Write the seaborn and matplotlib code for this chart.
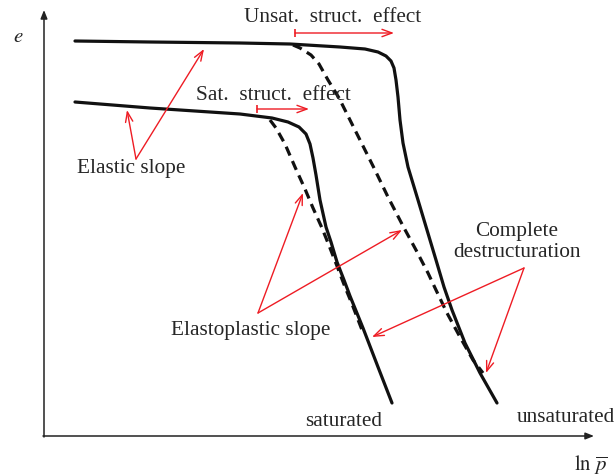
import numpy as np
import pandas as pd
import matplotlib
matplotlib.use("Agg")
import matplotlib.pyplot as plt
import seaborn as sns

# schematic curves (ln p along x, e along y, y axis drawn downward in figure units)
unsat_x = [75, 150, 240, 290, 340, 365, 378, 386, 391, 394, 396, 398, 400, 403,
           408, 418, 427, 436, 444, 452, 465, 480, 497]
unsat_e = [41, 42, 43, 44, 47, 49, 52, 56, 61, 68, 80, 97, 120, 143,
           167, 200, 230, 260, 287, 310, 343, 373, 403]
unsat_dash_x = [293, 300, 311, 319, 328, 339, 350, 361, 374, 388, 403, 416, 428,
                436, 447, 460, 473, 483]
unsat_dash_e = [45, 48, 55, 64, 80, 98, 120, 142, 168, 197, 226, 250, 273,
                290, 313, 337, 360, 373]
sat_x = [75, 150, 240, 272, 288, 299, 306, 310, 313, 316, 320, 326, 331, 337,
         344, 350, 363, 378, 392]
sat_e = [102, 108, 114, 118, 122, 127, 134, 144, 158, 175, 200, 227, 242, 262,
         280, 296, 328, 367, 403]
sat_dash_x = [270, 276, 285, 295, 305, 313, 322, 330, 337, 345, 352, 362]
sat_dash_e = [120, 128, 144, 167, 189, 208, 228, 248, 266, 287, 304, 330]

RED = "#ee1c24"


def main():
    sns.set_style("white")
    plt.rcParams["font.family"] = ["Liberation Serif", "DejaVu Serif"]
    plt.rcParams["mathtext.fontset"] = "stix"

    fig = plt.figure(figsize=(6.15, 4.76), dpi=100)
    ax = fig.add_axes([0, 0, 1, 1])

    curves = pd.concat([
        pd.DataFrame({"lnp": unsat_x, "e": unsat_e, "curve": "unsat"}),
        pd.DataFrame({"lnp": sat_x, "e": sat_e, "curve": "sat"}),
    ])
    dashed = pd.concat([
        pd.DataFrame({"lnp": unsat_dash_x, "e": unsat_dash_e, "curve": "unsat"}),
        pd.DataFrame({"lnp": sat_dash_x, "e": sat_dash_e, "curve": "sat"}),
    ])
    sns.lineplot(data=curves, x="lnp", y="e", units="curve", estimator=None,
                 sort=False, color="#111111", lw=2.3, ax=ax)
    sns.lineplot(data=dashed, x="lnp", y="e", units="curve", estimator=None,
                 sort=False, color="#111111", lw=2.3, ax=ax)
    for ln in ax.lines:
        ln.set_solid_joinstyle("round")
    for ln in ax.lines[-2:]:
        ln.set_dashes([3.0, 1.9])
    ax.set_xlim(0, 615)
    ax.set_ylim(476, 0)
    ax.axis("off")

    # axes arrows
    ax_kw = dict(arrowstyle="-|>,head_length=0.5,head_width=0.2", color="#222222",
                 lw=1.1, mutation_scale=10, shrinkA=0, shrinkB=0)
    ax.annotate("", xy=(44, 10), xytext=(44, 437), arrowprops=ax_kw)
    ax.annotate("", xy=(594, 436), xytext=(43, 436), arrowprops=ax_kw)
    ax.text(18, 37, r"$e$", fontsize=15, ha="center", va="center")
    ax.text(591, 465, r"$\ln\,\overline{p}$", fontsize=15, ha="center", va="center")

    # red annotations
    red_kw = dict(arrowstyle="->,head_length=0.6,head_width=0.22", color=RED,
                  lw=1.0, mutation_scale=12, shrinkA=0, shrinkB=0)
    for start, end in [((295, 33), (394, 33)), ((257, 109), (309, 109))]:
        ax.annotate("", xy=end, xytext=start, arrowprops=red_kw)
        ax.vlines(start[0], start[1] - 4, start[1] + 4, color=RED, lw=1.2)

    for apex, targets in [((136, 159), [(127, 110), (204, 49)]),
                          ((258, 313), [(303, 193), (402, 230)]),
                          ((524, 268), [(372, 337), (486, 373)])]:
        for t in targets:
            ax.annotate("", xy=t, xytext=apex, arrowprops=red_kw)

    fs = 15.3
    ax.text(333, 18, "Unsat.  struct.  effect", fontsize=fs, ha="center", va="center")
    ax.text(273, 95, "Sat.  struct.  effect", fontsize=fs, ha="center", va="center")
    ax.text(131, 168, "Elastic slope", fontsize=fs, ha="center", va="center")
    ax.text(251, 330, "Elastoplastic slope", fontsize=fs, ha="center", va="center")
    ax.text(517, 242, "Complete\ndestructuration", fontsize=fs, ha="center",
            va="center", multialignment="center", linespacing=1.15)
    ax.text(344, 421, "saturated", fontsize=fs, ha="center", va="center")
    ax.text(566, 418, "unsaturated", fontsize=fs, ha="center", va="center")

    fig.savefig("out.png", dpi=100)


if __name__ == "__main__":
    main()
